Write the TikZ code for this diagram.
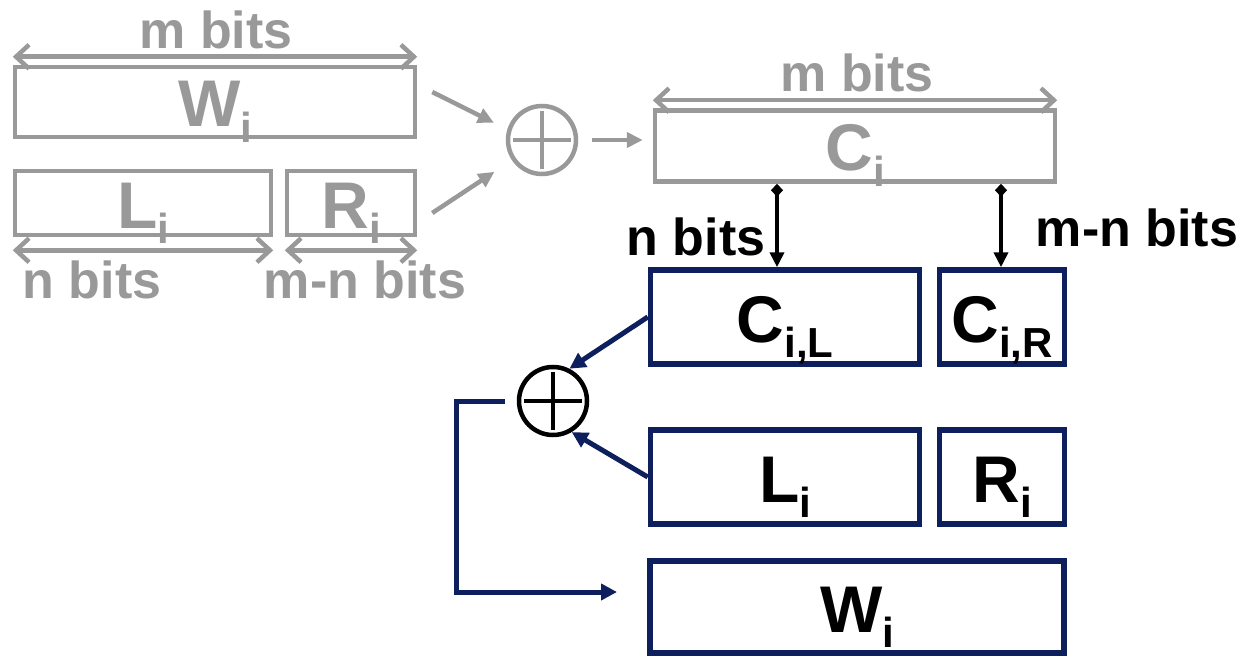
\documentclass[tikz,border=0pt]{standalone}
\usepackage{fontspec}
\setmainfont{Liberation Sans}
\usepackage{tikz}
\usetikzlibrary{arrows.meta,positioning,calc}
\definecolor{boxgray}{HTML}{999999}
\definecolor{navy}{HTML}{0D1F5C}
\newcommand{\lowsub}[1]{\raisebox{-0.23em}{\fontsize{42}{42}\selectfont #1}}

\begin{document}
\begin{tikzpicture}[x=1pt, y=-1pt,
  big/.style={font=\fontsize{66}{66}\selectfont\bfseries, text height=50pt, text depth=0pt, inner sep=0pt},
  bits/.style={font=\fontsize{52}{52}\selectfont\bfseries, anchor=base, inner sep=0pt},
  gbox/.style={big, draw=boxgray, text=boxgray, line width=4.5pt},
  nbox/.style={big, draw=navy, text=black, line width=5.5pt},
  dim/.style={boxgray, line width=4.5pt, {Straight Barb[length=13pt,width=24pt]}-{Straight Barb[length=13pt,width=24pt]}},
  garrow/.style={boxgray, line width=4.5pt, -{Triangle[length=16pt,width=15pt]}},
  narrow/.style={navy, line width=5pt, -{Triangle[length=16pt,width=16pt]}},
  split/.style={black, line width=4pt, {Diamond[length=13pt,width=12pt]}-{Triangle[length=15pt,width=14pt]}},
  xor/.style={circle, draw=#1, line width=4.5pt, minimum size=68pt, inner sep=0pt,
    path picture={\draw[#1, line width=4.5pt]
      ([xshift=-29pt]path picture bounding box.center) -- ([xshift=29pt]path picture bounding box.center)
      ([yshift=-29pt]path picture bounding box.center) -- ([yshift=29pt]path picture bounding box.center);}}]
\useasboundingbox (0,0) rectangle (1245,658);
% previous block (gray)
\node[gbox, minimum width=400pt, minimum height=70pt] (wg) at (215,102) {W\lowsub{i}};
\node[gbox, minimum width=256pt, minimum height=64pt] (lg) at (143,203) {L\lowsub{i}};
\node[gbox, minimum width=128pt, minimum height=64pt] (rg) at (351,203) {R\lowsub{i}};
\node[gbox, minimum width=400pt, minimum height=71pt] (cg) at (855,146) {C\lowsub{i}};
\node[xor=boxgray] (xg) at (542,140) {};
\node[bits, text=boxgray] (mw) at (216,49) {m bits};
\node[bits, text=boxgray] (mc) at (857,92) {m bits};
\node[bits, text=boxgray] (nl) at (92,298) {n bits};
\node[bits, text=boxgray] (nr) at (365,298) {m-n bits};
\draw[dim] ([yshift=8pt]wg.north west) -- ([yshift=8pt]wg.north east);
\draw[dim] ([yshift=8pt]cg.north west) -- ([yshift=8pt]cg.north east);
\draw[dim] ([yshift=-13pt]lg.south west) -- ([yshift=-13pt]lg.south east);
\draw[dim] ([yshift=-13pt]rg.south west) -- ([yshift=-13pt]rg.south east);
\draw[garrow, shorten >=15pt] ([xshift=15pt,yshift=10pt]wg.east) -- (xg.163);
\draw[garrow, shorten >=21pt] ([xshift=15pt,yshift=-10pt]rg.east) -- (xg.214);
\draw[garrow, shorten <=14pt, shorten >=10pt] (xg.east) -- (xg.east -| cg.west);
% split of C_i
\node[nbox, minimum width=269pt, minimum height=94pt] (cl) at (785,317) {C\lowsub{i,L}};
\node[nbox, minimum width=125pt, minimum height=94pt] (cr) at (1002,317) {C\lowsub{i,R}};
\node[nbox, minimum width=269pt, minimum height=94pt] (ll) at (785,477) {L\lowsub{i}};
\node[nbox, minimum width=125pt, minimum height=94pt] (rl) at (1002,477) {R\lowsub{i}};
\node[nbox, minimum width=414pt, minimum height=92pt] (wn) at (857,607) {W\lowsub{i}};
\node[xor=black] (xb) at (553,401) {};
\node[bits] (nb) at (696,255) {n bits};
\node[bits] (mnb) at (1137,246) {m-n bits};
\coordinate (pl) at (777,0);
\coordinate (pr) at (1001,0);
\draw[split] (cg.south -| pl) -- (cl.north -| pl);
\draw[split] (cg.south -| pr) -- (cr.north -| pr);
% feedback through the xor
\draw[narrow] (cl.west) -- (xb.63);
\draw[narrow] (ll.west) -- (xb.-59);
\coordinate (fb) at (617,592);
\draw[narrow, shorten <=12pt] (xb.west) -- ++(-60,0) |- (fb);
\end{tikzpicture}
\end{document}
